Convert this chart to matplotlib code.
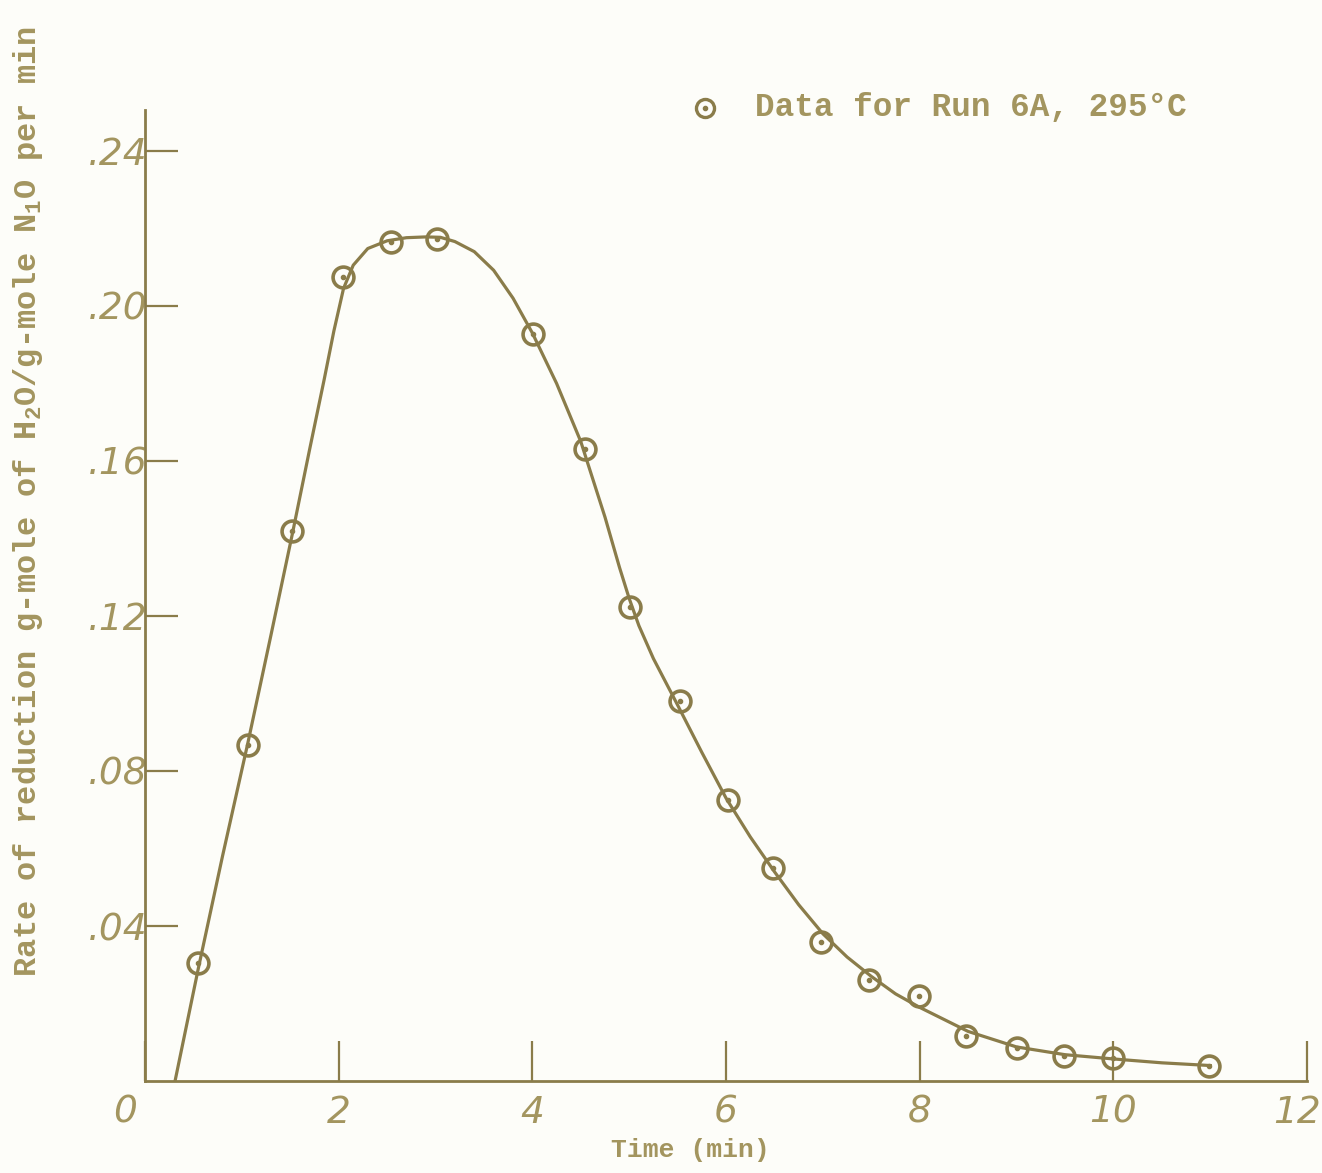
import matplotlib
matplotlib.use("Agg")
import matplotlib.pyplot as plt
import matplotlib.transforms as mtransforms

# data (Run 6A, 295 C)
time_pts = [0.55, 1.06, 1.52, 2.04, 2.54, 3.02, 4.01, 4.54, 5.01, 5.52,
            6.02, 6.49, 6.98, 7.48, 7.99, 8.48, 9.0, 9.49, 10.0, 10.99]
rate_pts = [0.0305, 0.0867, 0.142, 0.2075, 0.2165, 0.2173, 0.1928, 0.163, 0.1223, 0.098,
            0.0725, 0.055, 0.0359, 0.026, 0.022, 0.0116, 0.0085, 0.0065, 0.006, 0.004]

# smooth fitted curve
curve_t = [0.31, 0.55, 0.8, 1.06, 1.3, 1.52, 1.7, 1.85, 1.95, 2.05, 2.15, 2.3, 2.5, 2.7, 2.9,
           3.05, 3.2, 3.4, 3.6, 3.8, 4.0, 4.25, 4.5, 4.75, 4.9, 5.0, 5.1, 5.25, 5.5, 5.75, 6.0,
           6.25, 6.5, 6.75, 7.0, 7.25, 7.5, 7.75, 8.0, 8.5, 9.0, 9.5, 10.0, 10.5, 11.0]
curve_r = [0.0, 0.029, 0.058, 0.087, 0.115, 0.141, 0.163, 0.181, 0.1935, 0.2045, 0.2105, 0.2148, 0.2168, 0.2176, 0.2178,
           0.2177, 0.2166, 0.2140, 0.2092, 0.2020, 0.1930, 0.1800, 0.1650, 0.1455, 0.1325, 0.1245, 0.1175, 0.1090, 0.0970, 0.0848, 0.0730,
           0.0630, 0.0540, 0.0455, 0.0380, 0.0320, 0.0270, 0.0225, 0.0190, 0.0128, 0.0088, 0.0068, 0.0057, 0.0047, 0.0040]

xticks = [0, 2, 4, 6, 8, 10, 12]
yticks = [0.04, 0.08, 0.12, 0.16, 0.20, 0.24]
ytick_labels = ['.04', '.08', '.12', '.16', '.20', '.24']

ink = '#8a7c4a'
pale = '#a3955f'

plt.rcParams['mathtext.fontset'] = 'custom'
plt.rcParams['mathtext.rm'] = 'Liberation Mono:bold'
plt.rcParams['mathtext.it'] = 'Liberation Mono:bold'
plt.rcParams['mathtext.bf'] = 'Liberation Mono:bold'

fig = plt.figure(figsize=(13.22, 11.73), dpi=100, facecolor='#fdfdf9')
ax = fig.add_axes([0.1097, 0.0784, 0.879, 0.828])
ax.set_facecolor('#fdfdf9')

ax.plot(curve_t, curve_r, color=ink, lw=2.3, zorder=2, solid_joinstyle='round')
ax.plot(time_pts, rate_pts, linestyle='none', marker='o', ms=15, mfc='none',
        mec=ink, mew=2.6, zorder=3, clip_on=False)
ax.plot(time_pts, rate_pts, linestyle='none', marker='o', ms=3, color=ink, zorder=3)

ax.set_xlim(0, 12)
ax.set_ylim(0, 0.2506)

for s in ['top', 'right']:
    ax.spines[s].set_visible(False)
for s in ['left', 'bottom']:
    ax.spines[s].set_color(ink)
    ax.spines[s].set_linewidth(2.0)

ax.set_xticks(xticks)
ax.set_xticklabels([str(t) for t in xticks])
ax.set_yticks(yticks)
ax.set_yticklabels(ytick_labels)
ax.tick_params(axis='x', direction='in', length=29, width=1.6, color=ink,
               labelsize=27, labelcolor=pale, pad=10)
ax.tick_params(axis='y', direction='in', length=24, width=1.6, color=ink,
               labelsize=27, labelcolor=pale, pad=-2)
for lab in ax.get_xticklabels() + ax.get_yticklabels():
    lab.set_fontstyle('italic')
    lab.set_family('DejaVu Sans')

# the "0" sits a little left of the origin, the "12" a little left of its tick
xlabs = ax.get_xticklabels()
xlabs[0].set_transform(xlabs[0].get_transform() +
                       mtransforms.ScaledTranslation(-0.2, 0, fig.dpi_scale_trans))
xlabs[-1].set_transform(xlabs[-1].get_transform() +
                        mtransforms.ScaledTranslation(-0.1, 0, fig.dpi_scale_trans))

fig.text(690 / 1322, 1 - 1150 / 1173, 'Time (min)', ha='center', va='center',
         family='Liberation Mono', weight='bold', fontsize=19, color=pale)
fig.text(28 / 1322, 1 - 502 / 1173,
         'Rate of reduction g-mole of H$_2$O/g-mole N$_1$O per min',
         rotation=90, ha='center', va='center',
         family='Liberation Mono', weight='bold', fontsize=23, color=pale)

# legend entry
fig.lines.append(plt.Line2D([705 / 1322], [1 - 108 / 1173], transform=fig.transFigure,
                            marker='o', ms=13, mfc='none', mec=ink, mew=2.4))
fig.lines.append(plt.Line2D([705 / 1322], [1 - 108 / 1173], transform=fig.transFigure,
                            marker='o', ms=3, color=ink))
fig.text(755 / 1322, 1 - 108 / 1173, 'Data for Run 6A, 295°C', ha='left', va='center',
         family='Liberation Mono', weight='bold', fontsize=23.5, color=pale)

fig.savefig('out.png', dpi=100, facecolor=fig.get_facecolor())
